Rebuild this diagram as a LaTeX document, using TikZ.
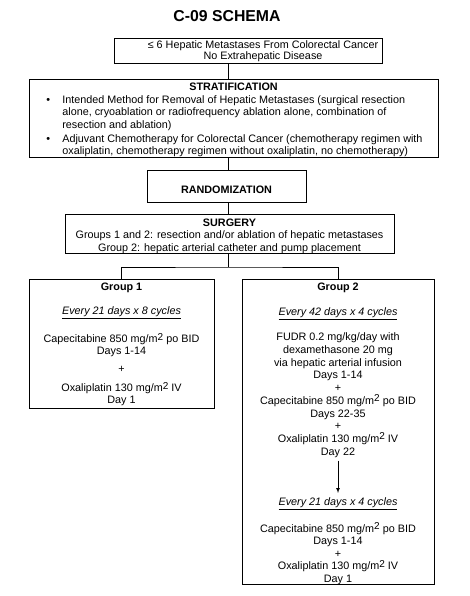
\documentclass[tikz,border=0pt]{standalone}
\usepackage{fontspec}
\setmainfont{Liberation Sans}
\newcommand{\msq}{m\raisebox{0.45ex}{\fontsize{10}{10}\selectfont 2}}
\begin{document}
\begin{tikzpicture}[x=1pt, y=-1pt, line width=0.7pt,
box/.style={draw, inner sep=0pt},
txt/.style={font=\fontsize{10.8}{12.5}\selectfont, align=center, inner sep=2pt},
tight/.style={font=\fontsize{10.8}{11.4}\selectfont},
loose/.style={font=\fontsize{10.8}{12.7}\selectfont},
head/.style={font=\fontsize{15.8}{18}\selectfont\bfseries}]
\useasboundingbox (0,0) rectangle (470,596);
\coordinate (spine) at (228,0);
\node[head] (title) at (227,16) {C-09 SCHEMA};
\node[box, minimum width=268pt, minimum height=25pt] (elig) at (248,51) {};
\node[txt, tight] (eligtext) at (263,51) {≤ 6 Hepatic Metastases From Colorectal Cancer\\ No Extrahepatic Disease};
\node[box, minimum width=409pt, minimum height=78pt] (strat) at (233.5,118) {};
\node[txt] (strattitle) at (233.5,86.5) {\textbf{STRATIFICATION}};
\node[txt, anchor=west, align=left, inner sep=0pt] (stratlist) at (46,126) {%
    \makebox[16pt][l]{\textbullet}Intended Method for Removal of Hepatic Metastases (surgical resection\\
    \hspace*{16pt}alone, cryoablation or radiofrequency ablation alone, combination of\\
    \hspace*{16pt}resection and ablation)\\[1.5pt]
    \makebox[16pt][l]{\textbullet}Adjuvant Chemotherapy for Colorectal Cancer (chemotherapy regimen with\\
    \hspace*{16pt}oxaliplatin, chemotherapy regimen without oxaliplatin, no chemotherapy)};
\node[box, txt, minimum width=159pt, minimum height=32pt, text height=15pt, text depth=1pt] (rand) at (226.5,186) {\textbf{RANDOMIZATION}};
\node[box, minimum width=329pt, minimum height=39pt] (surg) at (229.5,233.5) {};
\node[txt] (surgtext) at (229.5,236) {\textbf{SURGERY}\\
    Groups 1 and 2: resection and/or ablation of hepatic metastases\\
    Group 2: hepatic arterial catheter and pump placement};
\coordinate (split) at (228,267);
\node[box, anchor=north, minimum width=185pt, minimum height=129pt] (g1) at (121.5,279) {};
\node[box, anchor=north, minimum width=192pt, minimum height=305pt] (g2) at (338,279) {};
\node[txt, tight] (g1text) at (121.5,344) {\textbf{Group 1}\\[12.6pt]
    \underline{\textit{Every 21 days x 8 cycles}}\\[13.6pt]
    Capecitabine 850 mg/\msq{} po BID\\ Days 1-14\\[7.4pt] +\\[7.4pt]
    Oxaliplatin 130 mg/\msq{} IV\\ Day 1};
\node[txt, loose] (g2text) at (338,370) {\textbf{Group 2}\\[13pt]
    \underline{\textit{Every 42 days x 4 cycles}}\\[12.3pt]
    FUDR 0.2 mg/kg/day with\\ dexamethasone 20 mg\\ via hepatic arterial infusion\\
    Days 1-14\\ +\\ Capecitabine 850 mg/\msq{} po BID\\ Days 22-35\\ +\\
    Oxaliplatin 130 mg/\msq{} IV\\ Day 22};
\node[txt] (g2more) at (338,541) {\underline{\textit{Every 21 days x 4 cycles}}\\[12.5pt]
    Capecitabine 850 mg/\msq{} po BID\\ Days 1-14\\ +\\
    Oxaliplatin 130 mg/\msq{} IV\\ Day 1};
\draw (elig.south -| spine) -- (strat.north -| spine);
\draw (strat.south -| spine) -- (rand.north -| spine);
\draw (rand.south -| spine) -- (surg.north -| spine);
\draw (surg.south -| spine) -- (split);
\draw (g1.north) |- (split) -| (g2.north);
\draw[-latex, shorten <=1pt, shorten >=2pt] (g2text.south) -- (g2more.north);
\end{tikzpicture}
\end{document}
